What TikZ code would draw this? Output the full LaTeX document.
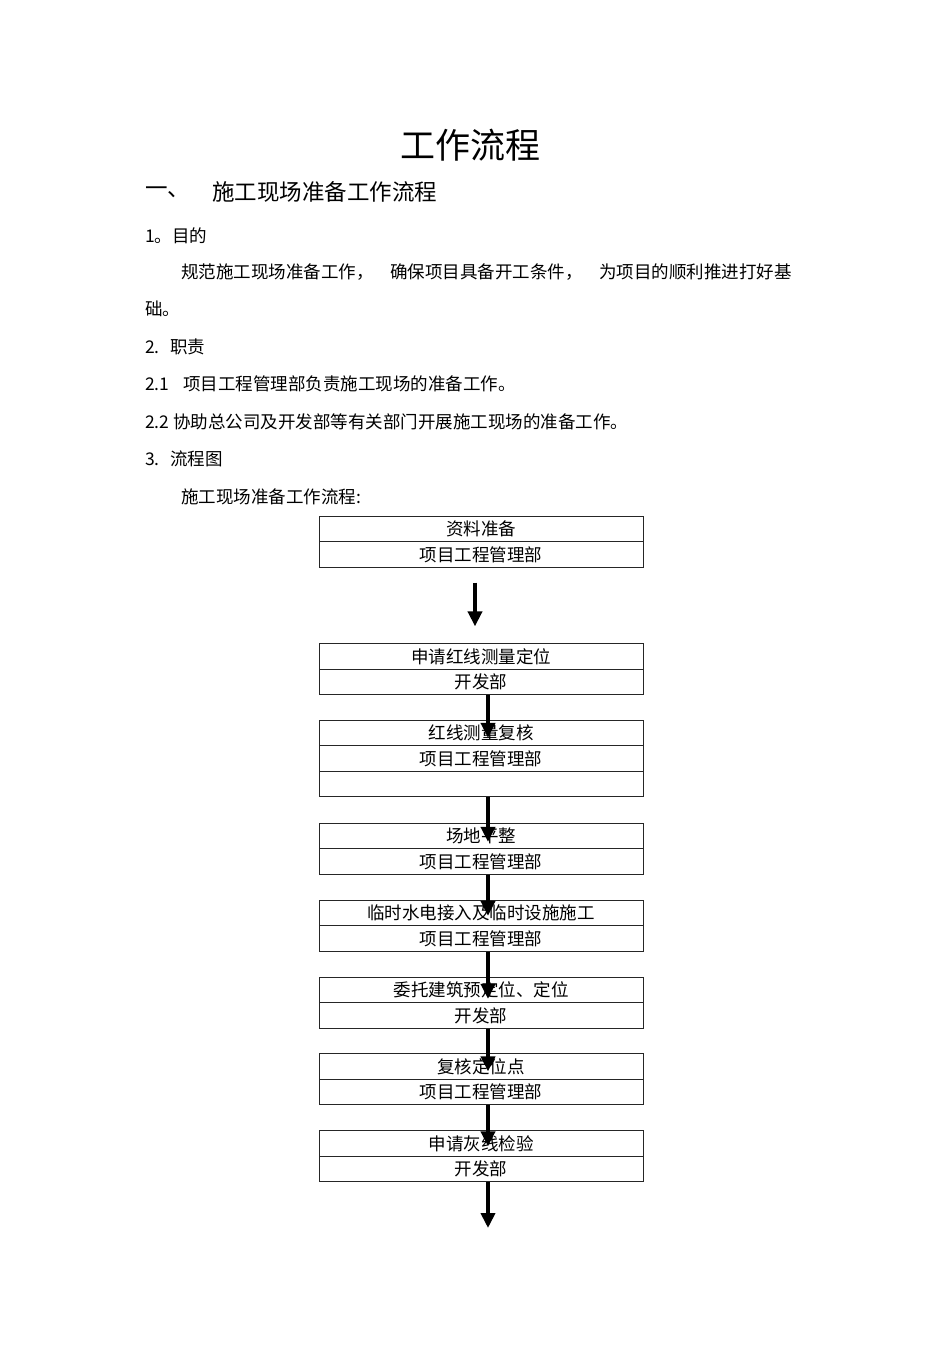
\documentclass[tikz,border=0pt]{standalone}
\usepackage{fontspec}
\setmainfont{Noto Sans CJK SC}
\usepackage{tikz}
\usetikzlibrary{arrows.meta,positioning}

\begin{document}
\begin{tikzpicture}[x=1pt,y=-1pt]
\tikzstyle{cell}=[draw=black!85, line width=0.8pt, rectangle,
minimum width=324pt, minimum height=25.5pt, inner sep=0pt,
font=\fontsize{17.5}{20}\selectfont]
\tikzstyle{para}=[anchor=west, inner sep=0pt, font=\fontsize{17.5}{20}\selectfont]
\tikzstyle{flow}=[-{Triangle[length=15pt,width=14pt]}, line width=4pt]

\useasboundingbox[fill=white] (0,0) rectangle (950,1345);

% heading and text
\node[inner sep=0pt, font=\fontsize{35}{40}\selectfont] (title) at (470,145) {工作流程};
\node[para, font=\fontsize{22.5}{26}\selectfont] (sec) at (145,192) {一、};
\node[para, font=\fontsize{22.5}{26}\selectfont] (secname) at (212,192) {施工现场准备工作流程};
\node[para] (p1) at (145,236) {1。目的};
\node[para] (p1a) at (181,272) {规范施工现场准备工作，\hspace{0.95em}确保项目具备开工条件，\hspace{0.95em}为项目的顺利推进打好基};
\node[para] (p1b) at (145,309) {础。};
\node[para] (p2) at (145,347) {2.\hspace{0.6em}职责};
\node[para] (p21) at (145,384) {2.1\hspace{0.8em}项目工程管理部负责施工现场的准备工作。};
\node[para] (p22) at (145,422) {2.2 协助总公司及开发部等有关部门开展施工现场的准备工作。};
\node[para] (p3) at (145,459) {3.\hspace{0.6em}流程图};
\node[para] (p3a) at (181,497) {施工现场准备工作流程:};

% flow boxes
\node[cell] (s1a) at (481,529) {资料准备};
\node[cell] (s1b) at (481,554.5) {项目工程管理部};

\node[cell] (s2a) at (481,656.5) {申请红线测量定位};
\node[cell] (s2b) at (481,682) {开发部};

\node[cell] (s3a) at (481,733) {红线测量复核};
\node[cell] (s3b) at (481,758.5) {项目工程管理部};
\node[cell] (s3c) at (481,784) {};

\node[cell] (s4a) at (481,836) {场地平整};
\node[cell] (s4b) at (481,861.5) {项目工程管理部};

\node[cell] (s5a) at (481,913) {临时水电接入及临时设施施工};
\node[cell] (s5b) at (481,938.5) {项目工程管理部};

\node[cell] (s6a) at (481,990) {委托建筑预定位、定位};
\node[cell] (s6b) at (481,1015.5) {开发部};

\node[cell] (s7a) at (481,1066.5) {复核定位点};
\node[cell] (s7b) at (481,1092) {项目工程管理部};

\node[cell] (s8a) at (481,1143.5) {申请灰线检验};
\node[cell] (s8b) at (481,1169) {开发部};

\coordinate (fin) at (488,1228);

% arrows
\draw[flow] ([shift={(-6,15)}]s1b.south) -- ([shift={(-6,-17)}]s2a.north);
\draw[flow] ([xshift=7pt]s2b.south) -- ([shift={(7,18)}]s3a.north);
\draw[flow] ([xshift=7pt]s3c.south) -- ([shift={(7,19)}]s4a.north);
\draw[flow] ([xshift=7pt]s4b.south) -- ([shift={(7,16)}]s5a.north);
\draw[flow] ([xshift=7pt]s5b.south) -- ([shift={(7,22)}]s6a.north);
\draw[flow] ([xshift=7pt]s6b.south) -- ([shift={(7,18)}]s7a.north);
\draw[flow] ([xshift=7pt]s7b.south) -- ([shift={(7,16)}]s8a.north);
\draw[flow] ([xshift=7pt]s8b.south) -- (fin);

\end{tikzpicture}
\end{document}
